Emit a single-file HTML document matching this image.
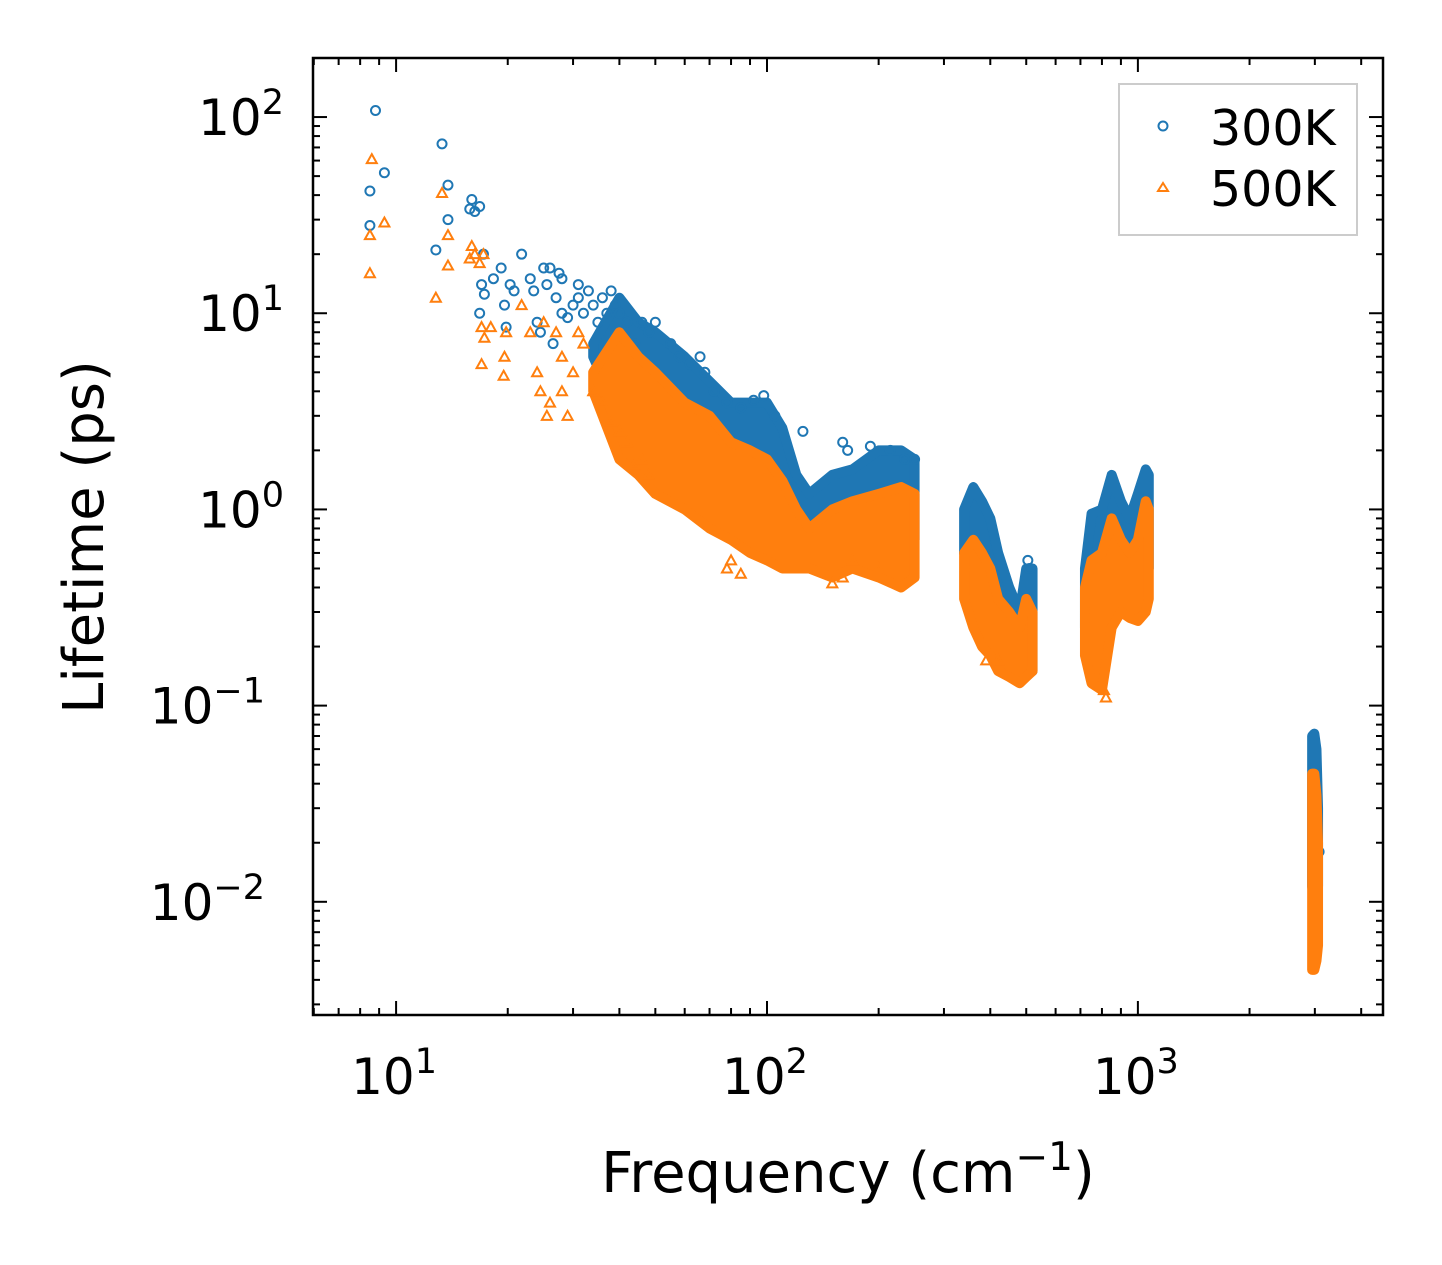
<!DOCTYPE html>
<html><head><meta charset="utf-8">
<style>
html,body{margin:0;padding:0;background:#fff;}
svg{display:block;font-family:"DejaVu Sans","Liberation Sans",sans-serif;}
</style></head>
<body>
<svg id="chart" width="1442" height="1265" viewBox="0 0 1442 1265" xmlns="http://www.w3.org/2000/svg">
<rect x="0" y="0" width="1442" height="1265" fill="#fff"/>
<g id="bands"></g>
<g id="points"></g>
<g id="axes"></g>
<text transform="translate(103,537) rotate(-90)" text-anchor="middle" font-size="56">Lifetime (ps)</text>
<text x="848" y="1192" text-anchor="middle" font-size="56">Frequency (cm<tspan dy="-22" font-size="39">−1</tspan><tspan dy="22">)</tspan></text>
<g>
<rect x="1119" y="84" width="238" height="151" fill="#fff" stroke="#ccc" stroke-width="2"/>
<circle cx="1163" cy="126" r="4.5" fill="none" stroke="#1f77b4" stroke-width="2"/>
<text x="1210" y="145" font-size="49">300K</text>
<polygon points="1163,183 1168,191 1158,191" fill="none" stroke="#ff7f0e" stroke-width="2"/>
<text x="1210" y="206" font-size="49">500K</text>
</g>
</svg>
<script>
// ---- data ----
const bluePtsF = [8.5,8.5,8.8,9.3,12.8,13.3,13.8,13.8,15.8,16,16.3,16.8,17,17.3,16.8,17.2,18.3,19.2,19.6,19.8,20.3,20.8,21.8,23,23.5,24,24.5,25,25.5,26,26.5,27,27.5,28,28,29,30,31,31,32,33,34,35,36,37,38,39,40,42,44,46,48,50,55,58,62,66,68,72,78,85,92,98,105,125,160,165,190,215,235,250,505,510,3080];
const bluePtsT = [42,28,108,52,21,73,45,30,34,38,33,35,14,12.5,10,20,15,17,11,8.5,14,13,20,15,13,9,8,17,14,17,7,12,16,15,10,9.5,11,14,12,10,13,11,9,12,10,13,11,10,9,7,9,8,9,7,6,5.5,6,5,4,3.5,3.3,3.6,3.8,3.0,2.5,2.2,2.0,2.1,2.0,1.8,1.8,0.55,0.5,0.018];
const orangePtsF = [8.6,8.5,8.5,9.3,12.8,13.3,13.8,13.8,15.8,16,16.3,16.8,17.2,17,17.3,17,18,19.8,19.6,19.5,21.8,23,24,24.5,25,25.5,26,27,28,28,29,30,31,32,34,36,38,40,42,44,46,48,78,80,85,150,160,170,200,390,420,810,820];
const orangePtsT = [61,25,16,29,12,41,25,17.5,19,22,20,18,20,8.5,7.5,5.5,8.5,8,6,4.8,11,8,5,4,9,3,3.5,8,6,4,3,5,8,7,4,3.5,2.8,2.5,2.2,1.7,1.8,1.5,0.5,0.55,0.47,0.42,0.45,0.55,0.5,0.17,0.17,0.12,0.11];
// bands: [freq, low, high]
const blueBandF = [34,40,45,50,60,70,80,90,100,110,120,130,150,170,200,230,250];
const blueBandHi = [7,12,9,8,6,4.5,3.5,3.5,3.5,2.6,1.5,1.2,1.5,1.6,2.0,2.0,1.8];
const blueBandLo = [6,3,2.5,2,1.6,1.3,1.1,1.0,0.9,0.8,0.7,0.7,0.7,0.7,0.7,0.7,0.7];
const orangeBandHi = [5,8,6,5,3.5,3,2.2,2,1.8,1.4,1.0,0.8,1.0,1.1,1.2,1.3,1.2];
const orangeBandLo = [4,1.8,1.5,1.2,1.0,0.8,0.7,0.6,0.55,0.5,0.5,0.5,0.45,0.5,0.45,0.4,0.45];
const blueBand2F = [340,360,380,400,420,450,480,500,520];
const blueBand2Hi = [1.0,1.3,1.1,0.9,0.6,0.4,0.3,0.5,0.5];
const blueBand2Lo = [0.6,0.4,0.3,0.25,0.2,0.17,0.15,0.15,0.15];
const orangeBand2Hi = [0.6,0.7,0.6,0.5,0.35,0.3,0.25,0.35,0.3];
const orangeBand2Lo = [0.35,0.25,0.2,0.18,0.15,0.14,0.13,0.14,0.15];
const blueBand3F = [720,750,800,850,900,950,1000,1050,1070];
const blueBand3Hi = [0.5,0.95,1.0,1.5,1.1,0.9,1.2,1.6,1.5];
const blueBand3Lo = [0.25,0.18,0.15,0.3,0.4,0.3,0.3,0.5,0.5];
const orangeBand3Hi = [0.4,0.55,0.6,0.9,0.7,0.6,0.7,1.1,1.0];
const orangeBand3Lo = [0.18,0.13,0.12,0.25,0.3,0.28,0.27,0.3,0.35];
const blueBand4F = [2950,2990,3030,3060];
const blueBand4Hi = [0.07,0.072,0.06,0.03];
const blueBand4Lo = [0.012,0.01,0.01,0.012];
const orangeBand4Hi = [0.045,0.045,0.035,0.02];
const orangeBand4Lo = [0.0045,0.0045,0.005,0.006];
const xTickExp = [1,2,3];
const yTickExp = [2,1,0,-1,-2];

// ---- scales ----
const X0=313, X1=1383, Y0=58, Y1=1015;
const xMin=Math.log10(5.97), xMax=Math.log10(4580);
const yMax=2.301, yMin=-2.577;
const sx = f => X0 + (Math.log10(f)-xMin)/(xMax-xMin)*(X1-X0);
const sy = t => Y0 + (yMax-Math.log10(t))/(yMax-yMin)*(Y1-Y0);
const NS="http://www.w3.org/2000/svg";
const mk = (tag, attrs, parent) => { const e=document.createElementNS(NS,tag); for(const k in attrs) e.setAttribute(k,attrs[k]); parent.appendChild(e); return e; };

const svg=document.getElementById('chart');
const bands=document.getElementById('bands');
function band(F,Lo,Hi,color,name,parent){
  let pts=F.map((f,i)=>sx(f)+','+sy(Hi[i]));
  pts=pts.concat(F.map((f,i)=>sx(f)+','+sy(Lo[i])).reverse());
  const p=mk('polygon',{points:pts.join(' '),fill:color,stroke:color,'stroke-width':10,'stroke-linejoin':'round'},parent);
  
  
}
band(blueBandF,blueBandLo,blueBandHi,'#1f77b4','band-300k-1',bands);
band(blueBand2F,blueBand2Lo,blueBand2Hi,'#1f77b4','band-300k-2',bands);
band(blueBand3F,blueBand3Lo,blueBand3Hi,'#1f77b4','band-300k-3',bands);
band(blueBand4F,blueBand4Lo,blueBand4Hi,'#1f77b4','band-300k-4',bands);

const pts=document.getElementById('points');
bluePtsF.forEach((f,i)=>{
  const c=mk('circle',{cx:sx(f),cy:sy(bluePtsT[i]),r:4.5,fill:'none',stroke:'#1f77b4','stroke-width':2},pts);
  
  
});
const og=document.createElementNS(NS,'g');
svg.insertBefore(og, document.getElementById('axes'));
band(blueBandF,orangeBandLo,orangeBandHi,'#ff7f0e','band-500k-1',og);
band(blueBand2F,orangeBand2Lo,orangeBand2Hi,'#ff7f0e','band-500k-2',og);
band(blueBand3F,orangeBand3Lo,orangeBand3Hi,'#ff7f0e','band-500k-3',og);
band(blueBand4F,orangeBand4Lo,orangeBand4Hi,'#ff7f0e','band-500k-4',og);
orangePtsF.forEach((f,i)=>{
  const x=sx(f), y=sy(orangePtsT[i]);
  const t=mk('polygon',{points:`${x},${y-5} ${x+5},${y+4} ${x-5},${y+4}`,fill:'none',stroke:'#ff7f0e','stroke-width':2},og);
  
  
});

// ---- axes ----
const ax=document.getElementById('axes');
const frame=mk('rect',{x:X0,y:Y0,width:X1-X0,height:Y1-Y0,fill:'none',stroke:'#000','stroke-width':2.5},ax);


for(let e=0;e<=3;e++){ for(let m=1;m<10;m++){
  const v=m*Math.pow(10,e); if(v<6||v>4580) continue;
  const x=sx(v), L=(m===1)?14:7;
  mk('line',{x1:x,y1:Y1,x2:x,y2:Y1-L,stroke:'#000','stroke-width':2},ax);
  mk('line',{x1:x,y1:Y0,x2:x,y2:Y0+L,stroke:'#000','stroke-width':2},ax);
}}
for(let e=-3;e<=2;e++){ for(let m=1;m<10;m++){
  const v=m*Math.pow(10,e); const lv=Math.log10(v); if(lv<yMin||lv>yMax) continue;
  const y=sy(v), L=(m===1)?14:7;
  mk('line',{x1:X0,y1:y,x2:X0+L,y2:y,stroke:'#000','stroke-width':2},ax);
  mk('line',{x1:X1,y1:y,x2:X1-L,y2:y,stroke:'#000','stroke-width':2},ax);
}}
xTickExp.forEach(e=>{
  const t=mk('text',{x:sx(Math.pow(10,e))-2,y:1094,'text-anchor':'middle','font-size':50},ax);
  
  
  t.innerHTML='10<tspan dy="-21" font-size="35">'+e+'</tspan>';
});
yTickExp.forEach(e=>{
  const t=mk('text',{x:e<0?265:284,y:sy(Math.pow(10,e))+18,'text-anchor':'end','font-size':50},ax);
  
  
  t.innerHTML='10';
  const s=mk('tspan',{dy:-21,'font-size':35},t);
  s.textContent=(e<0?'−':'')+Math.abs(e);
});
</script>
</body></html>
